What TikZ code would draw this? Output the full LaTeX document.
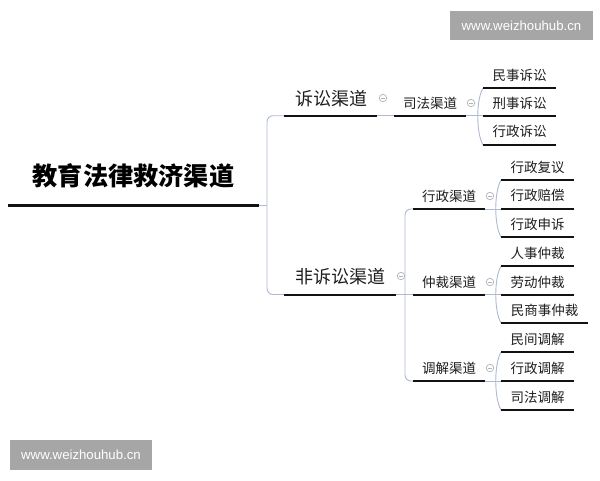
\documentclass[tikz,border=0pt]{standalone}
\usepackage{fontspec}
\setmainfont{Noto Sans CJK SC}
\newfontfamily\wmfont{Liberation Sans}
\definecolor{linec}{RGB}{172,186,212}
\definecolor{ulc}{RGB}{18,18,18}
\definecolor{txtc}{RGB}{30,30,30}
\definecolor{iconc}{RGB}{175,178,185}
\definecolor{wmgray}{RGB}{166,166,166}
\tikzset{
  conn/.style={draw=linec, line width=0.9pt},
  ulline/.style={draw=ulc, line width=2pt},
  rootul/.style={draw=ulc, line width=3pt},
  lbl/.style={inner sep=0pt, text=txtc, font=\fontsize{13.5}{16}\selectfont},
  midlbl/.style={inner sep=0pt, text=txtc, font=\fontsize{18}{21}\selectfont},
  rootlbl/.style={inner sep=0pt, text=black, font=\bfseries\fontsize{25.2}{29}\selectfont},
  icon/.style={circle, draw=iconc, line width=0.7pt, minimum size=7.5pt, inner sep=0pt,
    path picture={\draw[iconc, line width=0.6pt]
      ([xshift=-1.9pt]path picture bounding box.center) -- ([xshift=1.9pt]path picture bounding box.center);}},
  wmbox/.style={fill=wmgray, inner sep=0pt, text=white, font=\wmfont\fontsize{13.2}{15}\selectfont}
}
\begin{document}
\begin{tikzpicture}[x=1pt,y=-1pt]
\useasboundingbox (0,0) rectangle (600,480);
\fill[white] (0,0) rectangle (600,480);

% watermarks
\node[wmbox, minimum width=143pt, minimum height=29pt] (wm1) at (521.5,25.5) {www.weizhouhub.cn};
\node[wmbox, minimum width=142pt, minimum height=30pt] (wm2) at (81,455) {www.weizhouhub.cn};

% root
\node[rootlbl] (root) at (133.5,176) {教育法律救济渠道};
\coordinate (root-l) at (8,205); \coordinate (root-r) at (259,205);
\draw[rootul] (root-l) -- (root-r);

% level 1
\node[midlbl] (ss) at (331,99) {诉讼渠道};
\coordinate (ss-l) at (284,115.7); \coordinate (ss-r) at (377,115.7);
\node[icon] (ssi) at (383,98) {};
\node[midlbl] (fss) at (340,277) {非诉讼渠道};
\coordinate (fss-l) at (284,294.5); \coordinate (fss-r) at (396,294.5);
\node[icon] (fssi) at (401,276) {};

% level 2
\node[lbl] (sf) at (430,103) {司法渠道};
\coordinate (sf-l) at (394,115.7); \coordinate (sf-r) at (466,115.7);
\node[icon] (sfi) at (471,103) {};
\node[lbl] (xzqd) at (449,196) {行政渠道};
\coordinate (xzqd-l) at (413,209); \coordinate (xzqd-r) at (485,209);
\node[icon] (xzqdi) at (490,196) {};
\node[lbl] (zcqd) at (449,282) {仲裁渠道};
\coordinate (zcqd-l) at (413,294.5); \coordinate (zcqd-r) at (485,294.5);
\node[icon] (zcqdi) at (490,282) {};
\node[lbl] (tjqd) at (449,368) {调解渠道};
\coordinate (tjqd-l) at (413,381); \coordinate (tjqd-r) at (485,381);
\node[icon] (tjqdi) at (490,368) {};

% leaves of 司法渠道
\node[lbl] (ms) at (519.5,75) {民事诉讼};
\coordinate (ms-l) at (483,88); \coordinate (ms-r) at (556,88);
\node[lbl] (xs) at (519.5,103) {刑事诉讼};
\coordinate (xs-l) at (483,115.7); \coordinate (xs-r) at (556,115.7);
\node[lbl] (xzs) at (519.5,131) {行政诉讼};
\coordinate (xzs-l) at (483,145); \coordinate (xzs-r) at (556,145);

% leaves of 行政渠道
\node[lbl] (fy) at (537.5,167) {行政复议};
\coordinate (fy-l) at (501,180); \coordinate (fy-r) at (574,180);
\node[lbl] (pc) at (537.5,195) {行政赔偿};
\coordinate (pc-l) at (501,209); \coordinate (pc-r) at (574,209);
\node[lbl] (sx) at (537.5,224) {行政申诉};
\coordinate (sx-l) at (501,237); \coordinate (sx-r) at (574,237);

% leaves of 仲裁渠道
\node[lbl] (rs) at (537.5,253) {人事仲裁};
\coordinate (rs-l) at (501,266); \coordinate (rs-r) at (574,266);
\node[lbl] (ld) at (537.5,282) {劳动仲裁};
\coordinate (ld-l) at (501,294.5); \coordinate (ld-r) at (574,294.5);
\node[lbl] (msz) at (544.5,310) {民商事仲裁};
\coordinate (msz-l) at (501,323); \coordinate (msz-r) at (588,323);

% leaves of 调解渠道
\node[lbl] (mj) at (537.5,339) {民间调解};
\coordinate (mj-l) at (501,352); \coordinate (mj-r) at (574,352);
\node[lbl] (xzt) at (537.5,368) {行政调解};
\coordinate (xzt-l) at (501,381); \coordinate (xzt-r) at (574,381);
\node[lbl] (sft) at (537.5,397) {司法调解};
\coordinate (sft-l) at (501,410); \coordinate (sft-r) at (574,410);

% connectors
\coordinate (b1) at (267,205);
\draw[conn] (root-r) -- (b1);
\draw[conn, rounded corners=6pt] (ss-l) -| (b1) |- (fss-l);
\draw[conn] (ss-r) -- (sf-l);
\draw[conn] (sf-r) -- (xs-l);
\draw[conn] (ms-l) .. controls +(-7,12) and +(-7,-12) .. (xzs-l);

\coordinate (b2) at (405,294.5);
\draw[conn] (fss-r) -- (b2);
\draw[conn, rounded corners=6pt] (xzqd-l) -| (b2) |- (tjqd-l);
\draw[conn] (b2) -- (zcqd-l);

\draw[conn] (xzqd-r) -- (pc-l);
\draw[conn] (fy-l) .. controls +(-7,12) and +(-7,-12) .. (sx-l);
\draw[conn] (zcqd-r) -- (ld-l);
\draw[conn] (rs-l) .. controls +(-7,12) and +(-7,-12) .. (msz-l);
\draw[conn] (tjqd-r) -- (xzt-l);
\draw[conn] (mj-l) .. controls +(-7,12) and +(-7,-12) .. (sft-l);

% underlines
\foreach \n in {ss,fss,sf,xzqd,zcqd,tjqd,ms,xs,xzs,fy,pc,sx,rs,ld,msz,mj,xzt,sft}
  \draw[ulline] (\n-l) -- (\n-r);
\end{tikzpicture}
\end{document}
